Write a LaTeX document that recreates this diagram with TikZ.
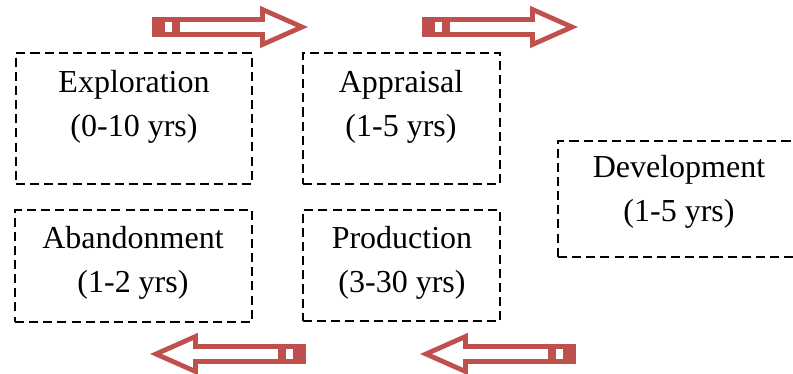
\documentclass[tikz,border=0pt]{standalone}
\usepackage{fontspec}
\setmainfont{Liberation Serif}
\usetikzlibrary{fit}
\definecolor{arrred}{RGB}{192,80,77}
\tikzset{
  dbox/.style={draw=black, line width=1.9pt, dash pattern=on 6.8pt off 3.8pt, inner sep=0pt},
  lbl/.style={align=center, font=\fontsize{24}{33}\selectfont, inner sep=0pt},
  fatarrow/.pic={
    \draw[arrred, fill=white, line width=3.6pt, line join=miter]
      (2.5,-7.5) -- (110.5,-7.5) -- (110.5,-17.5) -- (150,0) -- (110.5,17.5) -- (110.5,7.5) -- (2.5,7.5) -- cycle;
    \fill[arrred] (0,-10) rectangle (28,10);
    \fill[white] (13,-5) rectangle (20,5);
  }
}
\begin{document}
\begin{tikzpicture}[x=0.75pt, y=-0.75pt]
\clip (0,0) rectangle (793,374);
\useasboundingbox (0,0) rectangle (793,374);

% boxes
\node[dbox, fit={(16,53) (252,184)}] (expl) {};
\node[dbox, fit={(303,53) (500,184)}] (appr) {};
\node[dbox, fit={(15,210) (252,322)}] (aban) {};
\node[dbox, fit={(303,210) (500,321)}] (prod) {};
\node[dbox, fit={(558,141) (800,257)}] (deve) {};

% labels
\node[lbl] (expl-t) at (134,106.5) {Exploration\\(0-10 yrs)};
\node[lbl] (appr-t) at (401,107) {Appraisal\\(1-5 yrs)};
\node[lbl] (aban-t) at (133,263) {Abandonment\\(1-2 yrs)};
\node[lbl] (prod-t) at (402,263) {Production\\(3-30 yrs)};
\node[lbl] (deve-t) at (679,192) {Development\\(1-5 yrs)};

% arrows
\path (152,27) pic {fatarrow};
\path (422,27) pic {fatarrow};
\path (306,354) pic[xscale=-1] {fatarrow};
\path (576,354) pic[xscale=-1] {fatarrow};
\end{tikzpicture}
\end{document}
